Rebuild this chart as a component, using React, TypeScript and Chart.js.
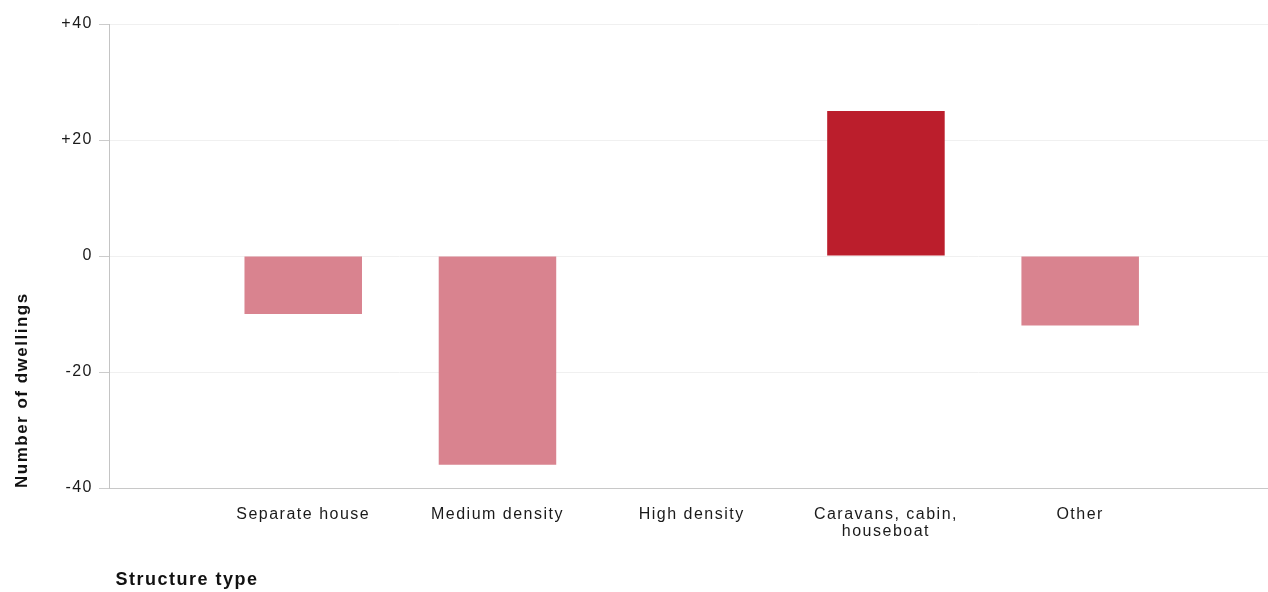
import React, { useEffect, useRef } from "react";
import { Chart, registerables } from "chart.js";

Chart.register(...registerables);

const categories: (string | string[])[] = [
  "Separate house",
  "Medium density",
  "High density",
  ["Caravans, cabin,", "houseboat"],
  "Other",
];
const changeValues = [-10, -36, 0, 25, -12];
const yTicks = [-40, -20, 0, 20, 40];

const LIGHT = "#d9838f";
const DARK = "#bb1e2c";
const FONT = "'Liberation Sans', Arial, sans-serif";

const letterSpacingPlugin = {
  id: "letterSpacing",
  beforeLayout(chart: any) {
    chart.ctx.letterSpacing = "1.5px";
  },
  beforeDraw(chart: any) {
    chart.ctx.letterSpacing = "1.5px";
  },
};

export default function App() {
  const ref = useRef<HTMLCanvasElement | null>(null);
  useEffect(() => {
    if (!ref.current) return;
    const points = changeValues.map((v, i) => ({ x: i + 1, y: v }));
    const chart = new Chart(ref.current, {
      type: "bar",
      data: {
        datasets: [
          {
            data: points as any,
            backgroundColor: changeValues.map((v) => (v > 0 ? DARK : LIGHT)),
            borderWidth: 0,
            categoryPercentage: 1,
            barPercentage: 0.605,
          },
        ],
      },
      plugins: [letterSpacingPlugin],
      options: {
        animation: false,
        responsive: false,
        layout: { padding: { top: 24, right: 0, bottom: 0, left: 0 } },
        plugins: { legend: { display: false }, tooltip: { enabled: false } },
        scales: {
          x: {
            type: "linear",
            offset: false,
            min: 0,
            max: 5.967,
            afterFit(scale: any) {
              scale.height = 104;
            },
            afterBuildTicks(scale: any) {
              scale.ticks = categories.map((_, i) => ({ value: i + 1 }));
            },
            grid: { display: false },
            border: { display: true, color: "#c8c8c8", width: 1 },
            ticks: {
              autoSkip: false,
              maxRotation: 0,
              padding: 10,
              color: "#1a1a1a",
              font: { family: FONT, size: 16, lineHeight: 1.05 },
              callback: (v: any) => {
                const idx = Math.round(Number(v)) - 1;
                return categories[idx] ?? "";
              },
            },
            title: {
              display: true,
              text: " Structure type",
              align: "start",
              color: "#111111",
              font: { family: FONT, size: 18, weight: "bold", lineHeight: 1.2 },
              padding: { top: 0, bottom: 1 },
            },
          },
          y: {
            type: "linear",
            min: -40,
            max: 40,
            afterFit(scale: any) {
              scale.width = 109;
            },
            afterBuildTicks(scale: any) {
              scale.ticks = yTicks.map((v) => ({ value: v }));
            },
            grid: {
              color: "#f0f0f0",
              tickColor: "#cccccc",
              tickLength: 10,
            },
            border: { display: true, color: "#c4c4c4", width: 1 },
            ticks: {
              padding: 6,
              color: "#1a1a1a",
              font: { family: FONT, size: 16 },
              callback: (v: any) => (Number(v) > 0 ? "+" + v : String(v)),
            },
            title: {
              display: true,
              text: "Number of dwellings",
              align: "start",
              color: "#111111",
              font: { family: FONT, size: 17, weight: "bold", lineHeight: 1.2 },
              padding: { top: 12, bottom: 0 },
            },
          },
        },
      },
    });
    return () => chart.destroy();
  }, []);
  return (
    <div
      style={{
        position: "fixed",
        left: 0,
        top: 0,
        width: 1268,
        height: 592,
        background: "#ffffff",
      }}
    >
      <canvas ref={ref} width={1268} height={592} style={{ display: "block" }} />
    </div>
  );
}
